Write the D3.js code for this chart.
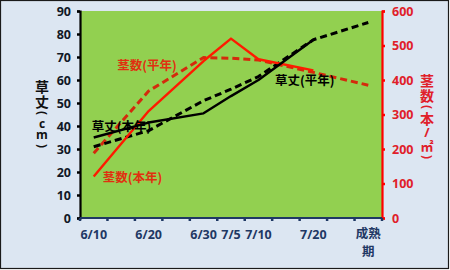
<!DOCTYPE html>
<html><head><meta charset="utf-8">
<script src="https://cdn.jsdelivr.net/npm/d3@7"></script>
<style>body{margin:0;background:#fff}svg{display:block}</style>
</head><body>
<svg id="c" width="450" height="270"></svg>
<script>
const dateLabels = ["6/10","","6/20","","6/30","7/5","7/10","","7/20","","成熟期"];
const heightThis   = [35, null, 41.5, null, 45.5, 53, 60, null, 77.5, null, null];
const heightNormal = [31, null, 38, null, 51, 56, 61.5, null, 77.5, null, 85];
const stemsThis    = [120, null, 310, null, 455, 520, 460, null, 428, null, null];
const stemsNormal  = [188, null, 368, null, 465, 463, 458, null, 422, null, 385];
const leftTicks = [0,10,20,30,40,50,60,70,80,90];
const rightTicks = [0,100,200,300,400,500,600];

const svg = d3.select("#c");
const W=450,H=270;
const m={l:80,r:68,t:11,b:52};
const x = d3.scaleBand().domain(d3.range(dateLabels.length)).range([m.l,W-m.r]).padding(0);
const yL = d3.scaleLinear().domain([0,90]).range([H-m.b,m.t]);
const yR = d3.scaleLinear().domain([0,600]).range([H-m.b,m.t]);
const cx = i => x(i)+x.bandwidth()/2;

svg.append("rect").attr("x",0.5).attr("y",0.5).attr("width",W-2).attr("height",H-2)
  .attr("fill","#DCE6F2").attr("stroke","#1a1a1a").attr("stroke-width",1.2);
svg.append("rect").attr("x",m.l).attr("y",m.t).attr("width",W-m.r-m.l).attr("height",H-m.b-m.t)
  .attr("fill","#92D050");

const font = "'Open Sans','Noto Sans CJK JP',sans-serif";
const cjk = "'Noto Sans CJK JP',sans-serif";

function drawLine(vals, scale, color, dash, w){
  const pts = vals.map((v,i)=>({i,v})).filter(d=>d.v!=null);
  svg.append("path").datum(pts)
    .attr("d", d3.line().x(d=>cx(d.i)).y(d=>scale(d.v)))
    .attr("fill","none").attr("stroke",color).attr("stroke-width",w)
    .attr("stroke-dasharray",dash).attr("stroke-linejoin","round");
}
drawLine(stemsNormal, yR, "#D42A0C", "7,4", 3);
drawLine(heightNormal, yL, "#000", "7,4", 3);
drawLine(stemsThis, yR, "#FF1A00", null, 2.4);
drawLine(heightThis, yL, "#000", null, 2.4);

const gL = svg.append("g").attr("transform",`translate(${m.l},0)`)
  .call(d3.axisLeft(yL).tickValues(leftTicks).tickSize(3).tickPadding(6));
gL.select(".domain").attr("stroke","#000").attr("stroke-width",2.2);
gL.selectAll(".tick line").attr("stroke","#000").attr("stroke-width",2.5);
gL.selectAll("text").attr("font-family",font).attr("font-weight","bold").attr("font-size",12.5).attr("fill","#111827");

const gR = svg.append("g").attr("transform",`translate(${W-m.r},0)`)
  .call(d3.axisRight(yR).tickValues(rightTicks).tickSize(3).tickPadding(7));
gR.select(".domain").attr("stroke","#FF0000").attr("stroke-width",2.2);
gR.selectAll(".tick line").attr("stroke","#FF0000").attr("stroke-width",2.5);
gR.selectAll("text").attr("font-family",font).attr("font-weight","bold").attr("font-size",12.5).attr("fill","#E0202A");

const gB = svg.append("g").attr("transform",`translate(0,${H-m.b})`);
gB.append("line").attr("x1",m.l).attr("x2",W-m.r).attr("stroke","#1F3864").attr("stroke-width",2.2);
const bounds = d3.range(dateLabels.length+1).map(i=> i<dateLabels.length ? x(i) : x(i-1)+x.bandwidth());
gB.selectAll("line.t").data(bounds).join("line").attr("class","t")
  .attr("x1",d=>d).attr("x2",d=>d).attr("y1",0).attr("y2",3).attr("stroke","#1F3864").attr("stroke-width",2.5);
dateLabels.forEach((lab,i)=>{
  if(!lab) return;
  const t = gB.append("text").attr("x",cx(i)).attr("text-anchor","middle")
    .attr("font-family",font).attr("font-weight","bold").attr("font-size",12.5).attr("fill","#1F3864");
  if(lab==="成熟期"){
    t.attr("font-family",cjk);
    t.append("tspan").attr("x",cx(i)).attr("y",20).text("成熟");
    t.append("tspan").attr("x",cx(i)).attr("y",38).text("期");
  } else t.attr("y",21).text(lab);
});

function vtitle(chars, xpos, ys, color){
  chars.forEach((c,k)=>{
    const t = svg.append("text").attr("x",xpos).attr("y",ys[k]).attr("text-anchor","middle")
      .attr("dominant-baseline","central")
      .attr("font-family",c.f||cjk).attr("font-weight","bold").attr("font-size",c.s||14)
      .attr("fill",color).text(c.t);
    if(c.r) t.attr("transform",`rotate(90,${xpos},${ys[k]})`);
  });
}
vtitle([{t:"草"},{t:"丈"},{t:"(",r:1,s:12,f:font},{t:"c",s:12,f:font},{t:"m",s:12,f:font},{t:")",r:1,s:12,f:font}],
  42, [86,101,113,123,134,146], "#111");
vtitle([{t:"茎"},{t:"数"},{t:"(",r:1,s:12,f:font},{t:"本"},{t:"/",s:13,f:font},{t:"㎡",s:13},{t:")",r:1,s:12,f:font}],
  427, [80,95,107,118,132,145,157], "#E0202A");

function label(txt, i, dx, yv, scale, color){
  svg.append("text").attr("x",cx(i)+dx).attr("y",scale(yv))
    .attr("font-family",cjk).attr("font-weight","bold").attr("font-size",12.5).attr("fill",color).text(txt);
}
label("茎数(平年)", 1, -4, 430, yR, "#E03010");
label("草丈(本年)", 0, -2, 38, yL, "#000");
label("茎数(本年)", 0, 9, 105, yR, "#E03010");
label("草丈(平年)", 7, -11, 58, yL, "#000");
</script>
</body></html>
